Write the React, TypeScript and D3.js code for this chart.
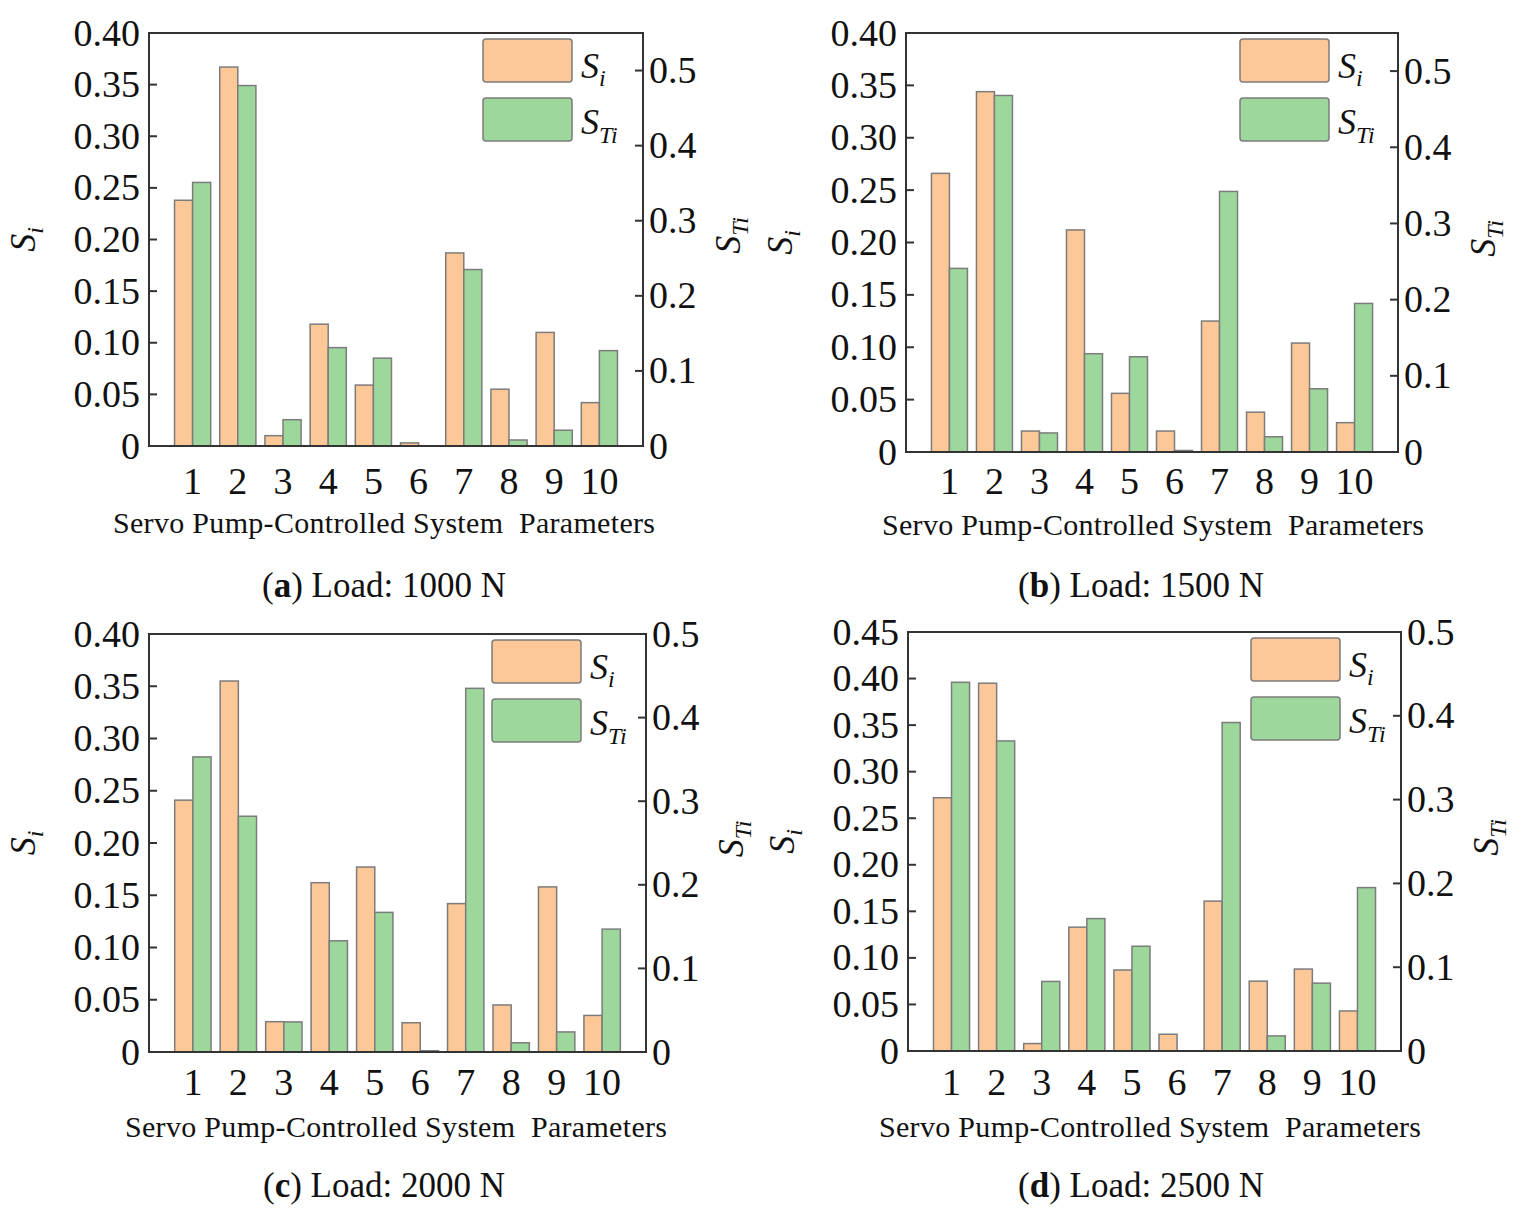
import React from 'react';
import * as d3 from 'd3';

const categories = ['1', '2', '3', '4', '5', '6', '7', '8', '9', '10'];

const siA = [0.238, 0.367, 0.010, 0.118, 0.059, 0.003, 0.187, 0.055, 0.110, 0.042];
const stiA = [0.351, 0.480, 0.035, 0.131, 0.117, 0, 0.235, 0.008, 0.021, 0.127];
const siB = [0.266, 0.344, 0.020, 0.212, 0.056, 0.020, 0.125, 0.038, 0.104, 0.028];
const stiB = [0.241, 0.468, 0.025, 0.129, 0.125, 0.002, 0.342, 0.020, 0.083, 0.195];
const siC = [0.241, 0.355, 0.029, 0.162, 0.177, 0.028, 0.142, 0.045, 0.158, 0.035];
const stiC = [0.353, 0.282, 0.036, 0.133, 0.167, 0.0015, 0.435, 0.011, 0.024, 0.147];
const siD = [0.272, 0.395, 0.008, 0.133, 0.087, 0.018, 0.161, 0.075, 0.088, 0.043];
const stiD = [0.440, 0.370, 0.083, 0.158, 0.125, 0, 0.392, 0.018, 0.081, 0.195];

const leftTicks40 = [0, 0.05, 0.10, 0.15, 0.20, 0.25, 0.30, 0.35, 0.40];
const leftTicks45 = [0, 0.05, 0.10, 0.15, 0.20, 0.25, 0.30, 0.35, 0.40, 0.45];
const rightTicks = [0, 0.1, 0.2, 0.3, 0.4, 0.5];

const panelLetters = ['a', 'b', 'c', 'd'];
const loads = ['1000 N', '1500 N', '2000 N', '2500 N'];
const leftMax = [0.40, 0.40, 0.40, 0.45];
const rightMax = [0.55, 0.55, 0.5, 0.5];
const xTitle = 'Servo Pump-Controlled System  Parameters';

const siSeries = [siA, siB, siC, siD];
const stiSeries = [stiA, stiB, stiC, stiD];
const leftTickSets = [leftTicks40, leftTicks40, leftTicks40, leftTicks45];

// layout (pixel positions), kept apart from the data
const layouts = [
  { left: 149, right: 643, top: 33, bottom: 446, tickY: 494, titleY: 533, titleX: 384, capY: 597, capX: 384, legX: 483, legY: 39 },
  { left: 906, right: 1398, top: 33, bottom: 452, tickY: 494, titleY: 535, titleX: 1153, capY: 597, capX: 1141, legX: 1240, legY: 39 },
  { left: 149, right: 646, top: 634, bottom: 1052, tickY: 1095, titleY: 1137, titleX: 396, capY: 1197, capX: 384, legX: 492, legY: 640 },
  { left: 908, right: 1401, top: 632, bottom: 1051, tickY: 1095, titleY: 1137, titleX: 1150, capY: 1197, capX: 1141, legX: 1251, legY: 638 },
];

const ORANGE = '#FDC897';
const GREEN = '#9DD79C';
const BAR_STROKE = '#7c7c7c';
const AXIS = '#333333';
const FONT = '"Liberation Serif", "Times New Roman", serif';

function Panel({ idx }: { idx: number }) {
  const L = layouts[idx];
  const si = siSeries[idx];
  const sti = stiSeries[idx];
  const x0 = d3.scaleBand<string>().domain(categories).range([L.left, L.right]).paddingInner(0.2).paddingOuter(0.565);
  const x1 = d3.scaleBand<string>().domain(['si', 'sti']).range([0, x0.bandwidth()]);
  const yL = d3.scaleLinear().domain([0, leftMax[idx]]).range([L.bottom, L.top]);
  const yR = d3.scaleLinear().domain([0, rightMax[idx]]).range([L.bottom, L.top]);
  const midY = (L.top + L.bottom) / 2;

  const bar = (c: string, i: number, v: number, key: string, scale: d3.ScaleLinear<number, number>, fill: string) => {
    if (v <= 0) return null;
    const y = scale(v);
    const h = Math.max(1, L.bottom - y);
    return (
      <rect key={key + c} x={(x0(c) as number) + (x1(key) as number)} y={L.bottom - h} width={x1.bandwidth()} height={h}
        fill={fill} stroke={BAR_STROKE} strokeWidth={1.5} />
    );
  };

  return (
    <g>
      {categories.map((c, i) => bar(c, i, si[i], 'si', yL, ORANGE))}
      {categories.map((c, i) => bar(c, i, sti[i], 'sti', yR, GREEN))}
      <rect x={L.left} y={L.top} width={L.right - L.left} height={L.bottom - L.top} fill="none" stroke={AXIS} strokeWidth={2} />
      {leftTickSets[idx].map((t) => (
        <g key={'l' + t}>
          <line x1={L.left} x2={L.left + 8} y1={yL(t)} y2={yL(t)} stroke={AXIS} strokeWidth={2} />
          <text x={L.left - 9} y={yL(t) + 12.5} textAnchor="end" fontSize={38} fill="#111">{t === 0 ? '0' : t.toFixed(2)}</text>
        </g>
      ))}
      {rightTicks.map((t) => (
        <g key={'r' + t}>
          <line x1={L.right - 8} x2={L.right} y1={yR(t)} y2={yR(t)} stroke={AXIS} strokeWidth={2} />
          <text x={L.right + 6} y={yR(t) + 12.5} textAnchor="start" fontSize={38} fill="#111">{t === 0 ? '0' : t.toFixed(1)}</text>
        </g>
      ))}
      {categories.map((c) => (
        <text key={'x' + c} x={(x0(c) as number) + x0.bandwidth() / 2} y={L.tickY} textAnchor="middle" fontSize={38} fill="#111">{c}</text>
      ))}
      <text x={L.titleX} y={L.titleY} textAnchor="middle" fontSize={30} fill="#111" textLength={542} lengthAdjust="spacing"
        style={{ whiteSpace: 'pre' }}>{xTitle}</text>
      <text x={L.capX} y={L.capY} textAnchor="middle" fontSize={35} fill="#111">
        (<tspan fontWeight="bold">{panelLetters[idx]}</tspan>) Load: {loads[idx]}
      </text>
      {/* left axis title */}
      <text transform={`translate(${L.left - 114},${midY}) rotate(-90)`} textAnchor="middle" fontSize={36} fill="#111">
        <tspan fontStyle="italic">S</tspan>
        <tspan fontStyle="italic" fontSize={24} dy={8}>i</tspan>
      </text>
      {/* right axis title */}
      <text transform={`translate(${L.right + 97},${midY - 4}) rotate(-90)`} textAnchor="middle" fontSize={36} fill="#111">
        <tspan fontStyle="italic">S</tspan>
        <tspan fontStyle="italic" fontSize={24} dy={8}>Ti</tspan>
      </text>
      {/* legend */}
      <rect x={L.legX} y={L.legY} width={89} height={43} rx={3} fill={ORANGE} stroke={BAR_STROKE} strokeWidth={1.5} />
      <rect x={L.legX} y={L.legY + 59} width={89} height={43} rx={3} fill={GREEN} stroke={BAR_STROKE} strokeWidth={1.5} />
      <text x={L.legX + 98} y={L.legY + 39} fontSize={36} fill="#111">
        <tspan fontStyle="italic">S</tspan>
        <tspan fontStyle="italic" fontSize={24} dy={8}>i</tspan>
      </text>
      <text x={L.legX + 98} y={L.legY + 59 + 36} fontSize={36} fill="#111">
        <tspan fontStyle="italic">S</tspan>
        <tspan fontStyle="italic" fontSize={24} dy={9}>Ti</tspan>
      </text>
    </g>
  );
}

export default function App() {
  return (
    <svg width={1526} height={1217} viewBox="0 0 1526 1217"
      style={{ position: 'absolute', left: 0, top: 0, background: '#fff', fontFamily: FONT }}>
      <rect x={0} y={0} width={1526} height={1217} fill="#fff" />
      {[0, 1, 2, 3].map((i) => <Panel key={i} idx={i} />)}
    </svg>
  );
}
